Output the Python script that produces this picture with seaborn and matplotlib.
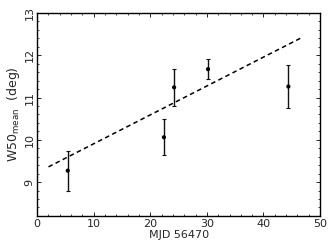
import matplotlib
matplotlib.use("Agg")
import matplotlib.pyplot as plt
from matplotlib.ticker import MultipleLocator
import seaborn as sns
import pandas as pd

# data
mjd = [5.4, 22.4, 24.2, 30.2, 44.4]
w50 = [9.27, 10.06, 11.24, 11.67, 11.26]
w50_err = [0.47, 0.43, 0.43, 0.24, 0.51]

fit_x = [2.0, 46.8]
fit_y = [9.36, 12.42]

df = pd.DataFrame({"mjd": mjd, "w50": w50, "err": w50_err})
fit = pd.DataFrame({"x": fit_x, "y": fit_y})

sns.set_style("ticks")
plt.rcParams["font.family"] = ["DejaVu Sans"]

fig, ax = plt.subplots(figsize=(3.32, 2.49), dpi=100)
fig.subplots_adjust(left=0.112, right=0.964, top=0.948, bottom=0.133)

sns.lineplot(data=fit, x="x", y="y", ax=ax, color="black", linestyle=(0, (3, 2.2)),
             linewidth=1.1)
ax.errorbar(df["mjd"], df["w50"], yerr=df["err"], fmt="none", ecolor="#111111",
            elinewidth=1.0, capsize=1.5, capthick=0.8)
sns.scatterplot(data=df, x="mjd", y="w50", ax=ax, color="black", s=9,
                edgecolor="none", zorder=3)

ax.set_xlim(0, 50)
ax.set_ylim(8.2, 13)
ax.xaxis.set_major_locator(MultipleLocator(10))
ax.xaxis.set_minor_locator(MultipleLocator(2))
ax.yaxis.set_major_locator(MultipleLocator(1))
ax.yaxis.set_minor_locator(MultipleLocator(0.2))
ax.tick_params(which="both", direction="in", top=True, right=True, labelsize=8, pad=2)
ax.tick_params(which="major", length=3, width=0.7)
ax.tick_params(which="minor", length=1.5, width=0.6)
for lbl in ax.get_yticklabels():
    lbl.set_rotation(90)
    lbl.set_va("center")

for sp in ax.spines.values():
    sp.set_linewidth(1.0)
    sp.set_color("black")

ax.set_xlabel("MJD 56470", fontsize=8, labelpad=1)
ax.set_ylabel(r"W50$_{\rm mean}$  (deg)", fontsize=9, labelpad=2)

fig.savefig("out.png", dpi=100)
